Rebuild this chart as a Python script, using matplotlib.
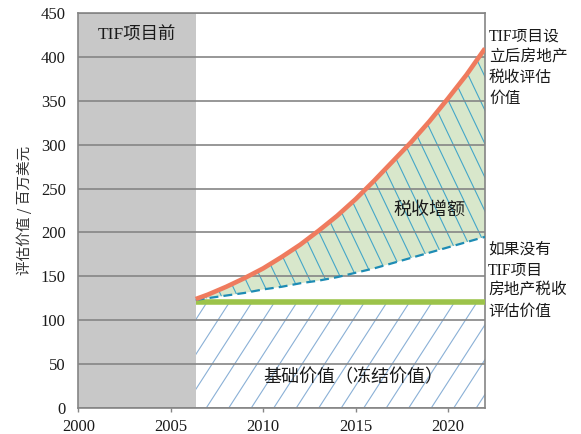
import numpy as np
import matplotlib
matplotlib.use("Agg")
import matplotlib.pyplot as plt
from matplotlib.patches import Polygon
from matplotlib.collections import LineCollection
from matplotlib.transforms import IdentityTransform

# --- data -------------------------------------------------------------
years = [2006.35, 2007, 2008, 2009, 2010, 2011, 2012, 2013, 2014,
         2015, 2016, 2017, 2018, 2019, 2020, 2021, 2022]
# assessed value after the TIF district is created (million USD)
value_with_tif = [124, 129, 138, 148, 159, 172, 186, 202, 219,
                  238, 259, 281, 303, 327, 353, 380, 410]
# assessed value had there been no TIF district (million USD)
value_without_tif = [123, 125, 128, 131, 135, 138, 142, 145, 149,
                     154, 159, 165, 171, 177, 183, 189, 195]
base_value = 121          # frozen base value
tif_start = 2006.35       # year the TIF district starts
x_limits = (2000, 2022)
y_limits = (0, 450)
x_ticks = [2000, 2005, 2010, 2015, 2020]
y_ticks = [0, 50, 100, 150, 200, 250, 300, 350, 400, 450]

label_with = ["TIF项目设", "立后房地产", "税收评估", "价值"]
label_without = ["如果没有", "TIF项目", "房地产税收", "评估价值"]

serif_cjk = ["Liberation Serif", "Noto Sans CJK SC"]
sans_cjk = ["Noto Sans CJK SC", "DejaVu Sans"]

W, H = 581, 434
fig = plt.figure(figsize=(W / 100, H / 100), dpi=100)
ax = fig.add_axes([0.1348, 0.0606, 0.7000, 0.9085])
ax.set_xlim(*x_limits)
ax.set_ylim(*y_limits)

GRID = "#858585"
TEXT = "#1a1a1a"

# pre-TIF period
ax.axvspan(x_limits[0], tif_start, color="#c8c8c8", zorder=0.5, lw=0)

# regions
x = np.array(years)
y_with = np.array(value_with_tif)
y_without = np.array(value_without_tif)

increment_poly = Polygon(np.column_stack([np.r_[x, x[::-1]],
                                          np.r_[y_with, y_without[::-1]]]),
                         closed=True, facecolor="#d8e7cb", edgecolor="none",
                         zorder=1)
ax.add_patch(increment_poly)

base_poly = Polygon([(tif_start, 0), (x_limits[1], 0),
                     (x_limits[1], base_value), (tif_start, base_value)],
                    closed=True, facecolor="none", edgecolor="none", zorder=1)
ax.add_patch(base_poly)


def add_hatch(clip_patch, slope_px, spacing_px, color, lw, offset=0.0):
    """Draw straight hatch lines (in pixel space) clipped to a patch."""
    fig.canvas.draw()
    bb = ax.bbox
    h = bb.y1 - bb.y0
    dx = h / slope_px
    lo = bb.x0 - abs(dx) - spacing_px + offset
    hi = bb.x1 + abs(dx) + spacing_px
    segs = [[(c, bb.y0), (c + dx, bb.y1)] for c in np.arange(lo, hi, spacing_px)]
    lc = LineCollection(segs, colors=color, linewidths=lw,
                        transform=IdentityTransform(), zorder=1.2)
    ax.add_collection(lc, autolim=False)
    lc.set_clip_path(clip_patch)


add_hatch(base_poly, 1.55, 22.5, "#8ab0d6", 0.8)
add_hatch(increment_poly, -2.1, 16.0, "#44a6c8", 0.8)

# grid and frame
ax.set_axisbelow(False)
ax.yaxis.grid(True, color=GRID, lw=1.2)
for s in ax.spines.values():
    s.set_color(GRID)
    s.set_linewidth(1.2)

# curves
ax.plot([tif_start, x_limits[1]], [base_value, base_value],
        color="#9cc34a", lw=4.0, solid_capstyle="butt", zorder=3)
ax.plot(x, y_without, color="#1e8cb4", lw=1.6,
        linestyle=(0, (4, 2.3)), zorder=3.5)
ax.plot(x, y_with, color="#ef7b5e", lw=3.3, solid_capstyle="butt",
        solid_joinstyle="round", zorder=4)

# ticks
ax.set_xticks(x_ticks)
ax.set_yticks(y_ticks)
ax.tick_params(axis="x", length=3, width=1, color=GRID, pad=5,
               labelsize=12, direction="out")
ax.tick_params(axis="y", length=0, pad=9, labelsize=12)
for lab in ax.get_xticklabels() + ax.get_yticklabels():
    lab.set_family("Liberation Serif")
    lab.set_color(TEXT)

ax.set_ylabel("评估价值 / 百万美元", family=sans_cjk, fontsize=10.5,
              color="#333333", labelpad=6)

# in-plot labels
ax.text((x_limits[0] + tif_start) / 2, 425, "TIF项目前", family=serif_cjk,
        fontsize=12.5, ha="center", va="center", color=TEXT, zorder=5)
ax.text(2019.0, 226, "税收增额", family=sans_cjk, fontsize=13,
        ha="center", va="center", color=TEXT, zorder=5)
ax.text(2010.0, 35, "基础价值（冻结价值）", family=sans_cjk, fontsize=13,
        ha="left", va="center", color=TEXT, zorder=5)


# right-hand annotations, one line at a time
def side_label(lines, first_y_px, step_px=20.5, x_px=489):
    for i, line in enumerate(lines):
        fig.text(x_px / W, 1 - (first_y_px + i * step_px) / H, line,
                 family=serif_cjk, fontsize=11.3, ha="left", va="center",
                 color=TEXT)


side_label(label_with, 37)
side_label(label_without, 250, x_px=488)

fig.savefig("out.png", dpi=100)
